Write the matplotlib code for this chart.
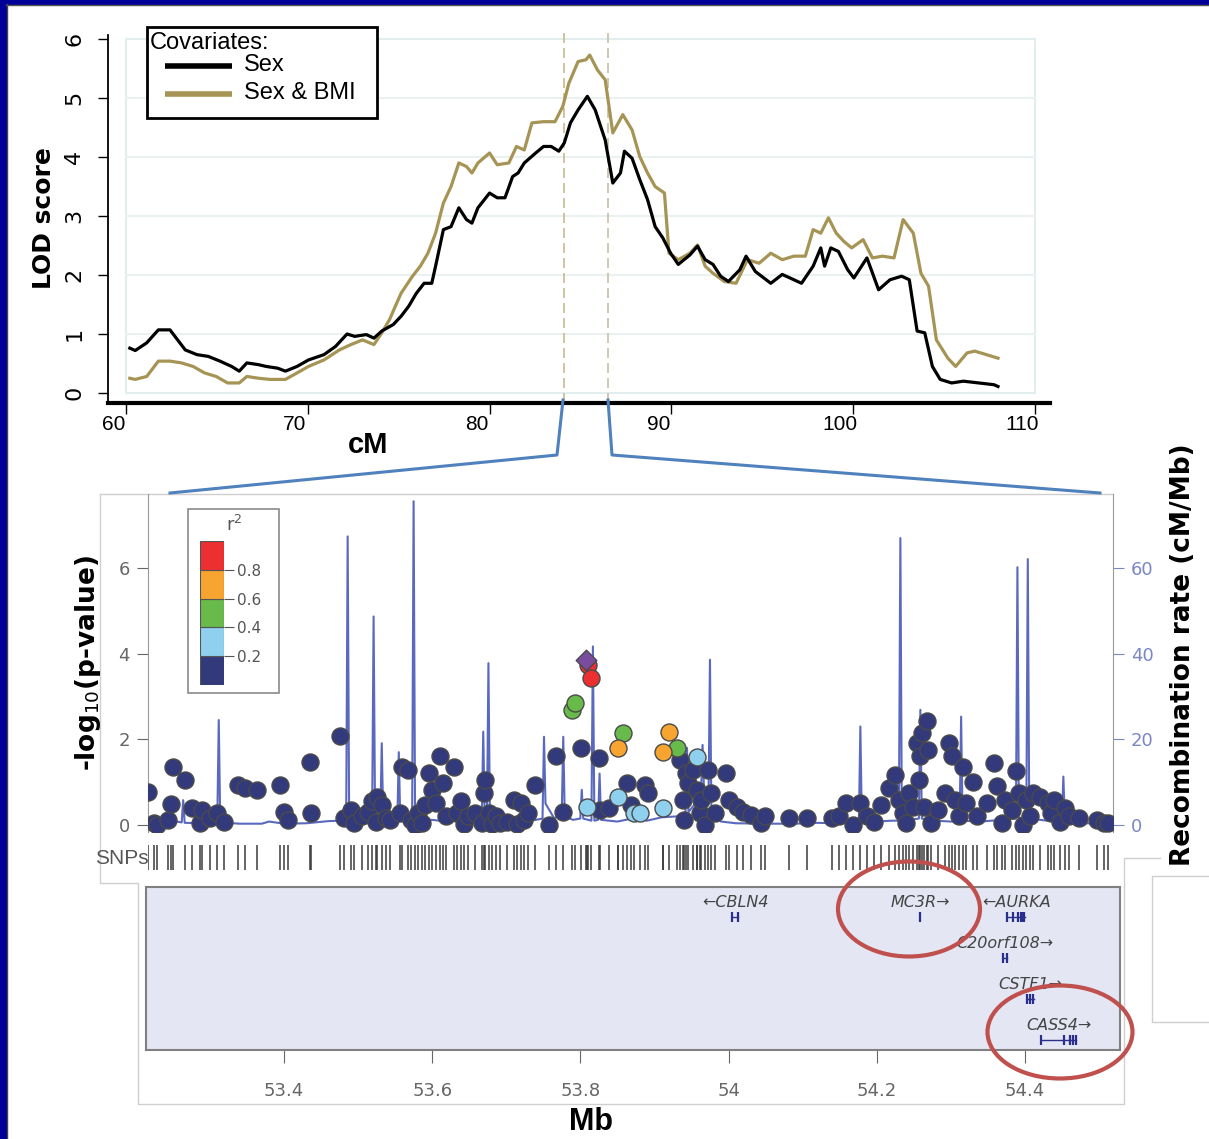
import matplotlib
matplotlib.use('Agg')
import matplotlib.pyplot as plt
from matplotlib.lines import Line2D
from matplotlib.patches import Rectangle, Ellipse
from matplotlib import font_manager

W, H = 1209, 1139

# ---------------- top panel: LOD curves ----------------
cm_sex = [60.21, 60.51, 61.14, 61.78, 62.42, 63.26, 63.90, 64.53, 65.17, 65.81, 66.23, 66.65,
          67.29, 67.71, 68.35, 68.77, 69.41, 70.04, 70.89, 71.53, 72.16, 72.58, 73.22, 73.64,
          74.07, 74.70, 75.13, 75.55, 75.97, 76.40, 76.82, 77.03, 77.46, 77.88, 78.31, 78.73,
          79.03, 79.36, 80.00, 80.42, 80.85, 81.27, 81.57, 81.91, 82.54, 82.97, 83.39, 83.81,
          84.11, 84.45, 84.87, 85.38, 85.81, 86.36, 86.78, 87.20, 87.42, 87.84, 88.26, 88.69,
          89.11, 89.53, 89.96, 90.38, 91.02, 91.44, 91.86, 92.29, 92.71, 93.14, 93.77, 94.11,
          94.62, 95.47, 96.10, 96.74, 97.16, 97.80, 98.22, 98.43, 98.77, 99.19, 99.70, 100.04,
          100.76, 101.40, 102.03, 102.67, 103.09, 103.52, 103.94, 104.36, 104.79, 105.42,
          106.06, 106.91, 107.75, 107.97]
lod_sex = [0.76, 0.72, 0.85, 1.07, 1.07, 0.73, 0.65, 0.62, 0.54, 0.45, 0.37, 0.51,
           0.48, 0.45, 0.42, 0.37, 0.45, 0.56, 0.65, 0.79, 1.00, 0.96, 0.99, 0.93,
           1.05, 1.16, 1.30, 1.47, 1.69, 1.86, 1.86, 2.15, 2.77, 2.82, 3.14, 2.94,
           2.88, 3.14, 3.39, 3.31, 3.31, 3.67, 3.73, 3.90, 4.07, 4.18, 4.18, 4.10,
           4.24, 4.58, 4.80, 5.03, 4.80, 4.29, 3.56, 3.73, 4.10, 3.98, 3.62, 3.28,
           2.82, 2.63, 2.37, 2.18, 2.34, 2.49, 2.26, 2.18, 1.98, 1.89, 2.09, 2.32,
           2.06, 1.86, 2.01, 1.92, 1.86, 2.15, 2.46, 2.15, 2.46, 2.40, 2.09, 1.95,
           2.29, 1.75, 1.92, 1.98, 1.92, 1.05, 1.02, 0.45, 0.23, 0.17,
           0.20, 0.17, 0.14, 0.11]

cm_bmi = [60.21, 60.51, 61.14, 61.78, 62.42, 63.05, 63.69, 64.32, 64.96, 65.59, 66.23, 66.65,
          67.29, 67.92, 68.77, 69.41, 70.04, 70.89, 71.74, 72.37, 73.01, 73.64, 74.07, 74.49,
          75.13, 75.76, 76.19, 76.61, 77.03, 77.46, 77.88, 78.31, 78.73, 79.03, 79.36, 80.00,
          80.42, 81.06, 81.48, 81.91, 82.33, 82.97, 83.60, 84.03, 84.36, 84.87, 85.30, 85.51,
          85.93, 86.36, 86.78, 87.33, 87.84, 88.26, 88.69, 89.11, 89.62, 89.87, 90.38, 91.02,
          91.44, 91.86, 92.29, 92.92, 93.56, 94.19, 94.83, 95.47, 96.10, 96.74, 97.37, 97.80,
          98.22, 98.64, 99.07, 99.49, 99.92, 100.55, 101.06, 101.61, 102.25, 102.75, 103.31,
          103.73, 104.15, 104.58, 105.21, 105.64, 106.27, 106.69, 107.33, 107.97]
lod_bmi = [0.25, 0.23, 0.28, 0.54, 0.54, 0.51, 0.45, 0.34, 0.28, 0.17, 0.17, 0.28,
           0.25, 0.23, 0.23, 0.34, 0.45, 0.56, 0.73, 0.82, 0.90, 0.82, 1.02, 1.24,
           1.69, 1.98, 2.15, 2.37, 2.71, 3.22, 3.50, 3.90, 3.84, 3.73, 3.90, 4.07,
           3.87, 3.90, 4.18, 4.12, 4.58, 4.60, 4.60, 4.86, 5.25, 5.62, 5.65, 5.73,
           5.48, 5.31, 4.41, 4.72, 4.46, 4.01, 3.73, 3.50, 3.39, 2.37, 2.26, 2.37,
           2.51, 2.15, 2.03, 1.89, 1.86, 2.26, 2.20, 2.37, 2.26, 2.32, 2.32, 2.77,
           2.71, 2.97, 2.71, 2.57, 2.46, 2.60, 2.29, 2.32, 2.29, 2.94, 2.71,
           2.03, 1.81, 0.90, 0.59, 0.45, 0.68, 0.71, 0.65, 0.59]

series_labels = ['Sex', 'Sex & BMI']
zoom_cm = [84.07, 86.53]
cm_ticks = [60, 70, 80, 90, 100, 110]
lod_ticks = [0, 1, 2, 3, 4, 5, 6]

# ---------------- regional association plot ----------------
navy_mb = [53.217, 53.224, 53.228, 53.243, 53.247, 53.250, 53.266, 53.276, 53.287, 53.290, 53.300,
           53.309, 53.319, 53.338, 53.348, 53.364, 53.395, 53.400, 53.405, 53.435, 53.436, 53.476,
           53.481, 53.491, 53.495, 53.505, 53.513, 53.519, 53.524, 53.526, 53.532, 53.538, 53.543,
           53.557, 53.560, 53.567, 53.572, 53.577, 53.581, 53.586, 53.591, 53.596, 53.600, 53.605,
           53.610, 53.615, 53.619, 53.629, 53.634, 53.639, 53.643, 53.648, 53.658, 53.667, 53.670,
           53.672, 53.677, 53.681, 53.686, 53.691, 53.701, 53.710, 53.715, 53.720, 53.724, 53.729,
           53.739, 53.758, 53.767, 53.777, 53.801, 53.825, 53.826, 53.839, 53.863, 53.868, 53.887,
           53.891, 53.934, 53.939, 53.940, 53.942, 53.946, 53.952, 53.958, 53.961, 53.963, 53.968,
           53.973, 53.977, 53.982, 53.996, 54.001, 54.011, 54.020, 54.030, 54.044, 54.049, 54.082,
           54.106, 54.140, 54.149, 54.159, 54.168, 54.178, 54.187, 54.197, 54.206, 54.216, 54.225,
           54.230, 54.235, 54.240, 54.244, 54.249, 54.254, 54.257, 54.259, 54.261, 54.264, 54.268,
           54.269, 54.273, 54.283, 54.292, 54.297, 54.302, 54.306, 54.311, 54.316, 54.321, 54.330,
           54.335, 54.349, 54.359, 54.362, 54.369, 54.373, 54.383, 54.388, 54.392, 54.397, 54.402,
           54.407, 54.411, 54.421, 54.431, 54.435, 54.440, 54.448, 54.454, 54.459, 54.473, 54.497,
           54.507, 54.512]
navy_logp = [0.78, 0.04, 0.00, 0.12, 0.50, 1.36, 1.05, 0.39, 0.04, 0.35, 0.16,
             0.27, 0.08, 0.94, 0.86, 0.82, 0.94, 0.31, 0.12, 1.48, 0.27, 2.07,
             0.16, 0.35, 0.04, 0.20, 0.31, 0.55, 0.08, 0.66, 0.47, 0.16, 0.12,
             0.27, 1.36, 1.29, 0.12, 0.00, 0.27, 0.04, 0.47, 1.21, 0.82, 0.51,
             1.60, 0.97, 0.20, 1.36, 0.27, 0.55, 0.02, 0.20, 0.27, 0.04, 0.74,
             1.05, 0.27, 0.02, 0.20, 0.04, 0.08, 0.58, 0.02, 0.51, 0.12, 0.27,
             0.94, 0.00, 1.60, 0.31, 1.79, 1.56, 0.35, 0.39, 0.97, 0.47, 0.94,
             0.74, 1.52, 0.58, 0.12, 1.21, 0.97, 1.29, 0.82, 0.27, 0.58, 0.00,
             1.29, 0.74, 0.27, 1.21, 0.58, 0.43, 0.31, 0.23, 0.04, 0.20, 0.16,
             0.16, 0.16, 0.20, 0.51, 0.00, 0.51, 0.20, 0.08, 0.47, 0.86, 1.17,
             0.58, 0.27, 0.04, 0.74, 0.43, 1.91, 1.05, 1.60, 2.14, 0.43, 2.42,
             1.75, 0.04, 0.35, 0.74, 1.91, 1.60, 0.58, 0.20, 1.36, 0.51, 1.01,
             0.20, 0.51, 1.44, 0.90, 0.04, 0.58, 0.35, 1.25, 0.74, 0.00, 0.58,
             0.20, 0.74, 0.66, 0.51, 0.27, 0.58, 0.08, 0.39, 0.20, 0.16, 0.12,
             0.04, 0.04]
lblue_mb = [53.809, 53.851, 53.872, 53.880, 53.911, 53.957]
lblue_logp = [0.42, 0.65, 0.28, 0.28, 0.40, 1.59]
green_mb = [53.789, 53.793, 53.858, 53.930]
green_logp = [2.69, 2.84, 2.14, 1.79]
orange_mb = [53.851, 53.912, 53.920]
orange_logp = [1.79, 1.71, 2.18]
red_mb = [53.810, 53.815]
red_logp = [3.74, 3.43]
lead_mb = [53.808]
lead_logp = [3.86]

recomb_mb = [53.217, 53.240, 53.255, 53.262, 53.264, 53.266, 53.290, 53.310, 53.312, 53.314,
             53.340, 53.370, 53.380, 53.400, 53.430, 53.460, 53.475, 53.484, 53.486, 53.488,
             53.500, 53.510, 53.519, 53.521, 53.523, 53.530, 53.532, 53.534, 53.545, 53.553,
             53.555, 53.557, 53.565, 53.573, 53.575, 53.577, 53.600, 53.620, 53.640, 53.660,
             53.667, 53.669, 53.671, 53.674, 53.676, 53.678, 53.700, 53.720, 53.740, 53.749,
             53.751, 53.753, 53.765, 53.775, 53.777, 53.779, 53.790, 53.800, 53.802, 53.804,
             53.815, 53.817, 53.819, 53.824, 53.826, 53.828, 53.850, 53.870, 53.890, 53.910,
             53.930, 53.942, 53.944, 53.946, 53.955, 53.963, 53.965, 53.967, 53.973, 53.975,
             53.977, 53.990, 54.010, 54.050, 54.090, 54.120, 54.150, 54.176, 54.178, 54.180,
             54.200, 54.220, 54.230, 54.232, 54.234, 54.245, 54.257, 54.259, 54.261, 54.280,
             54.300, 54.312, 54.314, 54.316, 54.340, 54.370, 54.388, 54.390, 54.392, 54.402,
             54.404, 54.406, 54.430, 54.450, 54.452, 54.454, 54.480, 54.518]
recomb_rate = [0.5, 0.4, 0.8, 0.6, 5.8, 0.5, 0.4, 0.6, 24.5, 0.6,
               0.3, 0.3, 0.8, 0.3, 0.4, 0.9, 1.0, 1.2, 67.4, 1.2,
               1.5, 1.0, 1.5, 48.7, 1.5, 1.0, 19.1, 1.2, 0.8, 1.0,
               17.0, 1.0, 0.8, 1.0, 75.6, 1.0, 1.2, 0.8, 1.0, 0.8,
               1.2, 21.8, 1.5, 1.5, 37.8, 1.5, 1.2, 0.8, 1.2, 1.5,
               20.6, 5.0, 1.5, 3.0, 20.6, 2.0, 1.2, 1.5, 8.2, 1.5,
               1.0, 41.7, 1.0, 1.2, 12.0, 1.2, 0.8, 1.5, 1.0, 1.8,
               2.0, 3.0, 18.0, 3.0, 5.0, 8.0, 18.7, 8.0, 5.0, 38.6,
               2.0, 0.8, 0.4, 0.3, 0.3, 0.5, 0.4, 0.6, 23.0, 0.6,
               0.8, 1.0, 1.0, 67.0, 1.0, 1.2, 1.5, 26.9, 1.5, 1.0,
               0.8, 1.0, 25.3, 1.0, 0.8, 1.2, 1.5, 60.2, 1.5, 1.5,
               62.1, 1.5, 1.0, 0.8, 11.3, 0.8, 0.4, 0.3]

r2_edges = [0.0, 0.2, 0.4, 0.6, 0.8, 1.0]
r2_colors = ['#333a7c', '#8fd0ef', '#68bb4b', '#f7a530', '#ec2f31']
lead_color = '#7a4c9f'

genes = ['CBLN4', 'MC3R', 'AURKA', 'C20orf108', 'CSTF1', 'CASS4']
gene_start = [54.004, 54.2578, 54.376, 54.370, 54.402, 54.422]
gene_end = [54.013, 54.2586, 54.400, 54.375, 54.412, 54.469]
gene_strand = ['-', '+', '-', '+', '+', '+']
gene_row = [1, 1, 1, 2, 3, 4]
gene_exons = [[54.005, 54.012], [54.258], [54.376, 54.384, 54.391, 54.394, 54.397, 54.399],
              [54.370, 54.375], [54.403, 54.406, 54.411], [54.422, 54.452, 54.461, 54.465, 54.468]]
mb_ticks = [53.4, 53.6, 53.8, 54.0, 54.2, 54.4]
mb_ticklabels = ['53.4', '53.6', '53.8', '54', '54.2', '54.4']

# ---------------- fonts / helpers ----------------
names = {f.name for f in font_manager.fontManager.ttflist}
NARROW = 'Liberation Sans Narrow' if 'Liberation Sans Narrow' in names else 'Liberation Sans'
plt.rcParams['font.family'] = ['DejaVu Sans']

fig = plt.figure(figsize=(W / 100, H / 100), dpi=100)
fig.patch.set_facecolor('white')


def fx(x):
    return x / W


def fy(y):
    return 1 - y / H


def box(l, t, r, b):
    return [fx(l), fy(b), (r - l) / W, (b - t) / H]


def fline(xs, ys, **kw):
    fig.add_artist(Line2D([fx(x) for x in xs], [fy(y) for y in ys],
                          transform=fig.transFigure, **kw))


# slide frame
fig.add_artist(Rectangle((0, 0), fx(6), 1, transform=fig.transFigure, color='#000099', zorder=20))
fig.add_artist(Rectangle((0, fy(4)), 1, 4 / H, transform=fig.transFigure, color='#000099', zorder=20))
fline([6.5, 6.5], [4, H], color='#444444', lw=1, zorder=20)
fline([6, W], [4.5, 4.5], color='#555555', lw=1, zorder=20)

# ---------------- top axes ----------------
TAN = '#a69455'
ax1 = fig.add_axes(box(108, 35, 1050, 403))
ax1.set_xlim(59.01, 110.83)
ax1.set_ylim(-0.17, 6.07)
ax1.add_patch(Rectangle((60, 0), 50, 6, fill=False, ec='#e2eded', lw=1.5, zorder=0))
for v in lod_ticks[1:-1]:
    ax1.plot([60, 110], [v, v], color='#e9f1f1', lw=1.5, zorder=0)
ax1.plot(cm_bmi, lod_bmi, color=TAN, lw=2.3, label=series_labels[1], zorder=3)
ax1.plot(cm_sex, lod_sex, color='black', lw=2.3, label=series_labels[0], zorder=4)
for c, col in zip(zoom_cm, ['#c9b98b', '#c8bfa3']):
    ax1.plot([c, c], [-0.17, 6.15], color=col, lw=1.2, ls=(0, (6, 3)), clip_on=False, zorder=2)
for s in ['top', 'right']:
    ax1.spines[s].set_visible(False)
ax1.spines['left'].set_linewidth(1.3)
ax1.spines['bottom'].set_linewidth(3)
ax1.set_yticks(lod_ticks)
ax1.set_yticklabels([str(v) for v in lod_ticks], rotation=90, va='center', fontsize=16)
ax1.tick_params(axis='y', length=7, width=1, pad=10)
ax1.set_xticks(cm_ticks)
ax1.set_xticklabels([])
ax1.tick_params(axis='x', length=8, width=1)
for v in cm_ticks:
    ax1.text(v - 0.7, -0.058, str(v), transform=ax1.get_xaxis_transform(), ha='center',
             va='center', fontsize=15, family=NARROW)
fig.text(fx(44), fy(218), 'LOD score', rotation=90, ha='center', va='center',
         fontsize=18, fontweight='bold')
fig.text(fx(368), fy(445), 'cM', ha='center', va='center', fontsize=21,
         fontweight='bold', family=NARROW)

# legend
fig.add_artist(Rectangle((fx(147), fy(118)), 230 / W, 91 / H, transform=fig.transFigure,
                         fc='white', ec='black', lw=2, zorder=5))
fig.text(fx(150), fy(43), 'Covariates:', ha='left', va='center', fontsize=17,
         family=NARROW, zorder=6)
for yy, col, lab in [(66, 'black', series_labels[0]), (94, TAN, series_labels[1])]:
    fline([165, 232], [yy, yy], color=col, lw=4, zorder=6, solid_capstyle='butt')
    fig.text(fx(244), fy(yy - 1), lab, ha='left', va='center', fontsize=17,
             family=NARROW, zorder=6)

# ---------------- regional plot ----------------
ax2 = fig.add_axes(box(148, 494, 1113, 832))
ax2r = ax2.twinx()
ax2.set_zorder(3)
ax2r.set_zorder(2)
ax2.patch.set_visible(False)
xl = (53.2165, 54.519)
ax2.set_xlim(*xl)
ax2.set_ylim(-0.164, 7.73)
ax2r.set_ylim(-1.64, 77.3)
ax2r.plot(recomb_mb, recomb_rate, color='#5a69bf', lw=1.5)

pt = dict(s=150, edgecolors='#4a4a4a', linewidths=1, zorder=3)
ax2.scatter(navy_mb, navy_logp, c=r2_colors[0], **pt)
ax2.scatter(lblue_mb, lblue_logp, c=r2_colors[1], **pt)
ax2.scatter(green_mb, green_logp, c=r2_colors[2], **pt)
ax2.scatter(orange_mb, orange_logp, c=r2_colors[3], **pt)
ax2.scatter(red_mb, red_logp, c=r2_colors[4], **pt)
ax2.scatter(lead_mb, lead_logp, c=lead_color, marker='D', s=110, edgecolors='#4a4a4a',
            linewidths=1, zorder=4)

for a in (ax2, ax2r):
    for s in ['top', 'bottom']:
        a.spines[s].set_visible(False)
ax2.spines['right'].set_visible(False)
ax2r.spines['left'].set_visible(False)
ax2.spines['left'].set_color('#999999')
ax2r.spines['right'].set_color('#999999')
ax2.set_xticks([])
ax2.set_yticks([0, 2, 4, 6])
ax2.tick_params(axis='y', colors='#666666', labelsize=13, length=8, pad=5)
ax2r.set_yticks([0, 20, 40, 60])
ax2r.tick_params(axis='y', colors='#7b86c6', labelsize=13, length=8, pad=5)
fig.text(fx(88), fy(663), '-log$_{10}$(p-value)', rotation=90, ha='center', va='center',
         fontsize=19, fontweight='bold')
fig.text(fx(1183), fy(655), 'Recombination rate (cM/Mb)', rotation=90, ha='center',
         va='center', fontsize=19, fontweight='bold')

# r2 legend
fig.add_artist(Rectangle((fx(188), fy(693)), 91 / W, 184 / H, transform=fig.transFigure,
                         fc='white', ec='#8a8a8a', lw=1.2, zorder=6))
axl = fig.add_axes(box(200, 541, 224, 685))
axl.set_zorder(7)
for lo, hi, c in zip(r2_edges[:-1], r2_edges[1:], r2_colors):
    axl.add_patch(Rectangle((0, lo), 1, hi - lo, fc=c, ec='#555555', lw=0.8))
axl.set_xlim(0, 1)
axl.set_ylim(0, 1)
axl.set_xticks([])
axl.yaxis.tick_right()
axl.set_yticks(r2_edges[1:-1])
axl.set_yticklabels(['%.1f' % v for v in r2_edges[1:-1]])
axl.tick_params(axis='y', colors='#555555', labelsize=11, length=7, pad=2)
for s in axl.spines.values():
    s.set_visible(False)
fig.text(fx(234), fy(525), 'r$^2$', ha='center', va='center', fontsize=13,
         color='#555555', zorder=8)

# SNP rug
axr = fig.add_axes(box(148, 845, 1113, 870))
axr.set_xlim(*xl)
axr.set_ylim(0, 1)
all_mb = navy_mb + lblue_mb + green_mb + orange_mb + red_mb + lead_mb
axr.vlines(all_mb, 0, 1, color='#3a3a3a', lw=1.1)
axr.axis('off')
fig.text(fx(122), fy(858), 'SNPs', ha='center', va='center', fontsize=15,
         color='#555555', family=NARROW)

# gene panel
ax3 = fig.add_axes(box(146, 887, 1120, 1050))
ax3.set_facecolor('#e4e6f3')
ax3.set_xlim(53.2138, 54.528)
ax3.set_ylim(4.24, 0.27)
for name, st, en, sd, row, ex in zip(genes, gene_start, gene_end, gene_strand, gene_row,
                                     gene_exons):
    ax3.plot([st, en], [row, row], color='#2b2f8c', lw=1)
    ax3.plot(ex, [row] * len(ex), ls='none', marker='|', ms=7, mew=1.6, color='#2b2f8c')
    lab = ('\u2190' + name) if sd == '-' else (name + '\u2192')
    ax3.text((st + en) / 2, row - 0.36, lab, ha='center', va='center', fontsize=11.5,
             style='italic', color='#444444')
ax3.set_yticks([])
ax3.set_xticks(mb_ticks)
ax3.set_xticklabels(mb_ticklabels)
ax3.tick_params(axis='x', colors='#666666', labelsize=13, length=9, pad=14)
for s in ax3.spines.values():
    s.set_color('#808080')
    s.set_linewidth(1.5)
fig.text(fx(591), fy(1122), 'Mb', ha='center', va='center', fontsize=22,
         fontweight='bold', family=NARROW)

# composition frame lines
LG = '#cfcfcf'
fline([100, 1113], [494, 494], color=LG, lw=1)
fline([100, 100, 137], [494, 883, 883], color=LG, lw=1)
fline([138, 138, 1124, 1124, 1160], [883, 1104, 1104, 858, 858], color=LG, lw=1)
fline([1209, 1152, 1152, 1209], [876, 876, 1022, 1022], color=LG, lw=1)

# zoom connectors
BL = '#4f81bd'
fline([563, 557, 170], [400, 455, 493], color=BL, lw=2.2, zorder=6)
fline([608, 612, 1100], [400, 455, 493], color=BL, lw=2.2, zorder=6)

# highlight ellipses
for cx, cy, w, h in [(909, 909, 142, 95), (1060, 1032, 145, 93)]:
    fig.add_artist(Ellipse((fx(cx), fy(cy)), w / W, h / H, transform=fig.transFigure,
                           fill=False, ec='#c0504d', lw=3, zorder=10))

fig.savefig('out.png', dpi=100)
